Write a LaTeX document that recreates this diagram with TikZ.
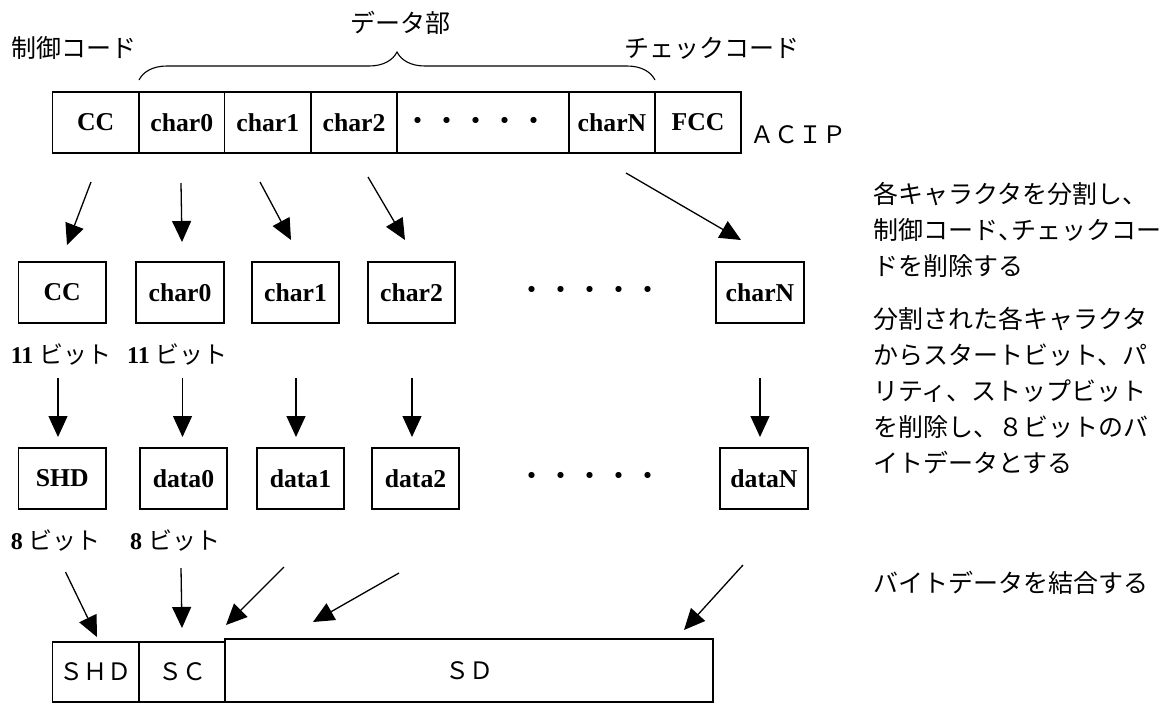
\documentclass[tikz,border=0pt]{standalone}
\usepackage{fontspec}
\setmainfont{Liberation Serif}
\newfontfamily\jp{Noto Sans CJK JP}
\usetikzlibrary{arrows.meta,decorations.pathreplacing}
\begin{document}
\begin{tikzpicture}[x=1pt,y=-1pt,
  cell/.style={draw, line width=1.2pt, inner sep=0pt, font=\bfseries\fontsize{25.7}{26}\selectfont},
  arr/.style={line width=1.3pt, -{Triangle[length=21pt,width=19pt]}},
  jlab/.style={font=\jp\fontsize{25}{25}\selectfont, inner sep=0pt},
  bitlab/.style={inner sep=0pt, anchor=west, font=\fontsize{24}{24}\selectfont},
  dots/.style={inner sep=0pt, font=\jp\fontsize{29}{29}\selectfont},
  spaced/.style={inner sep=0pt, font=\jp\fontsize{24}{24}\selectfont},
  note/.style={inner sep=0pt, align=left, font=\jp\fontsize{25}{36}\selectfont}
]
\useasboundingbox (0,0) rectangle (1165,702);
\clip (0,0) rectangle (1165,702);

% top labels
\node[jlab] (lcc) at (74,48) {制御コード};
\node[jlab] (ldata) at (400,23) {データ部};
\node[jlab] (lfcc) at (712,48) {チェックコード};
\draw[line width=1.1pt, decorate,
      decoration={brace, amplitude=28pt, aspect=0.5}] (139,80) -- (655,80);

% top row (y 92--153)
\node[cell, minimum width=86.5pt, minimum height=61pt] (t0) at (95.75,122.5) {CC};
\node[cell, minimum width=85.5pt, minimum height=61pt] (t1) at (181.75,122.5) {char0};
\node[cell, minimum width=86.5pt, minimum height=61pt] (t2) at (267.75,122.5) {char1};
\node[cell, minimum width=86pt, minimum height=61pt] (t3) at (354,122.5) {char2};
\node[cell, minimum width=172pt, minimum height=61pt] (t4) at (483,122.5) {};
\node[dots] (t4d) at (476,124) {・・・・・};
\node[cell, minimum width=86pt, minimum height=61pt] (t5) at (612,122.5) {charN};
\node[cell, minimum width=86pt, minimum height=61pt] (t6) at (698,122.5) {FCC};
\node[spaced, anchor=west] (acip) at (750,135) {ＡＣＩＰ};

% row 2 (y 262--323)
\node[cell, minimum width=87.5pt, minimum height=61pt] (c0) at (62.25,292.5) {CC};
\node[cell, minimum width=88pt, minimum height=61pt] (c1) at (180,292.5) {char0};
\node[cell, minimum width=87pt, minimum height=61pt] (c2) at (295.5,292.5) {char1};
\node[cell, minimum width=87pt, minimum height=61pt] (c3) at (411.5,292.5) {char2};
\node[dots] (cd) at (590,293) {・・・・・};
\node[cell, minimum width=88pt, minimum height=61pt] (cN) at (760,292.5) {charN};

\node[bitlab] (b11a) at (10.6,355) {\textbf{11} {\jp ビット}};
\node[bitlab] (b11b) at (127,355) {\textbf{11} {\jp ビット}};

% row 3 (y 448--509)
\node[cell, minimum width=87.5pt, minimum height=61pt] (d0) at (62.25,478.5) {SHD};
\node[cell, minimum width=87pt, minimum height=61pt] (d1) at (183.5,478.5) {data0};
\node[cell, minimum width=87pt, minimum height=61pt] (d2) at (300.5,478.5) {data1};
\node[cell, minimum width=87pt, minimum height=61pt] (d3) at (415.5,478.5) {data2};
\node[dots] (dd) at (590,479) {・・・・・};
\node[cell, minimum width=88pt, minimum height=61pt] (dN) at (764,478.5) {dataN};

\node[bitlab] (b8a) at (10.6,541) {\textbf{8} {\jp ビット}};
\node[bitlab] (b8b) at (130,541) {\textbf{8} {\jp ビット}};

% bottom box
\node[draw, line width=1.2pt, minimum width=86.5pt, minimum height=60pt, inner sep=0pt, spaced] (s0) at (95.75,672) {ＳＨＤ};
\node[draw, line width=1.2pt, minimum width=86pt, minimum height=60pt, inner sep=0pt, spaced] (s1) at (182,672) {ＳＣ};
\node[draw, line width=1.2pt, minimum width=488pt, minimum height=63pt, inner sep=0pt, spaced] (s2) at (469,670.5) {ＳＤ};

% arrows row1 -> row2
\coordinate (p1s) at (91,182);  \coordinate (p1e) at (67,245);
\coordinate (p2s) at (181,183); \coordinate (p2e) at (182,242);
\coordinate (p3s) at (260,182); \coordinate (p3e) at (291,240);
\coordinate (p4s) at (368,177); \coordinate (p4e) at (405,240);
\coordinate (p5s) at (626,173); \coordinate (p5e) at (741,240);
\foreach \i in {1,...,5} \draw[arr] (p\i s) -- (p\i e);

% arrows row2 -> row3
\foreach \x/\n in {58/1,182.5/2,296/3,412/4,760/5} {
  \coordinate (q\n s) at (\x,378); \coordinate (q\n e) at (\x,437);
  \draw[arr] (q\n s) -- (q\n e);
}

% arrows row3 -> bottom
\coordinate (r1s) at (65.5,572); \coordinate (r1e) at (97,637);
\coordinate (r2s) at (181,568);  \coordinate (r2e) at (182,628);
\coordinate (r3s) at (284,567);  \coordinate (r3e) at (226,625);
\coordinate (r4s) at (399,573);  \coordinate (r4e) at (313,622);
\coordinate (r5s) at (743,565);  \coordinate (r5e) at (684,630);
\foreach \i in {1,...,5} \draw[arr] (r\i s) -- (r\i e);

% right notes
\node[note, anchor=north west] (n1) at (873,182.5) {各キャラクタを分割し、\\制御コード\makebox[0.55em][l]{、}チェックコー\\ドを削除する};
\node[note, anchor=north west] (n2) at (873,307.5) {分割された各キャラクタ\\からスタートビット、パ\\リティ、ストップビット\\を削除し、８ビットのバ\\イトデータとする};
\node[note, anchor=west] (n3) at (873,583) {バイトデータを結合する};
\end{tikzpicture}
\end{document}
